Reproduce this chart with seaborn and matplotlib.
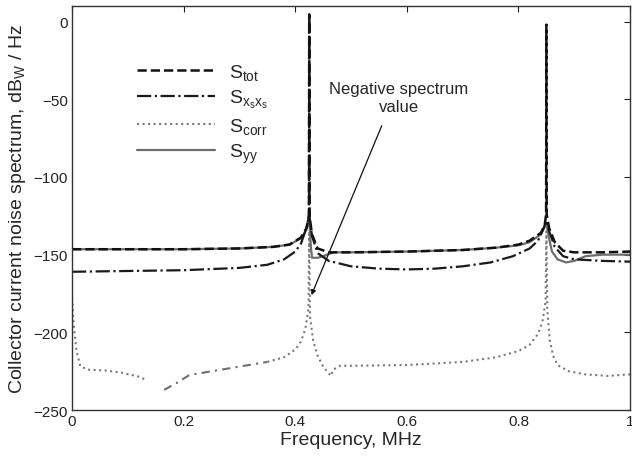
import numpy as np
import pandas as pd
import matplotlib
matplotlib.use("Agg")
import matplotlib.pyplot as plt
from matplotlib.lines import Line2D
import seaborn as sns

# ---------------- data ----------------
f_tot = [0, 0.1, 0.2, 0.3, 0.36, 0.39, 0.41, 0.42, 0.4245, 0.425, 0.4255, 0.43, 0.44, 0.46,
         0.5, 0.6, 0.7, 0.76, 0.8, 0.82, 0.84, 0.847, 0.8495, 0.85, 0.8505, 0.855, 0.865,
         0.88, 0.9, 0.95, 1.0]
s_tot = [-146.5, -146.5, -146.5, -146, -145, -143.5, -139, -133, -125, 4.5, -125, -137, -146,
         -148.5, -148.5, -148, -147, -145.5, -143.5, -141, -136, -131, -124, -2, -124, -133,
         -142, -147.5, -148.5, -148.5, -148]

f_xs = [0, 0.1, 0.2, 0.3, 0.35, 0.38, 0.40, 0.41, 0.42, 0.4245, 0.425, 0.4255, 0.43, 0.44,
        0.46, 0.5, 0.55, 0.6, 0.65, 0.7, 0.75, 0.79, 0.82, 0.835, 0.845, 0.85, 0.855, 0.865,
        0.88, 0.9, 0.95, 1.0]
s_xs = [-161, -160.5, -160, -158.5, -156.5, -153, -148, -143, -133, -125, 4.5, -125, -138,
        -149, -154, -157.5, -159, -159.5, -159, -157.5, -155, -151, -146, -141, -133, -128,
        -135, -145, -151, -153, -154, -154.5]

f_corr_a = [0, 0.003, 0.008, 0.015, 0.03, 0.06, 0.09, 0.12, 0.135]
s_corr_a = [-178, -195, -212, -222, -224, -224.5, -226, -228.5, -231]
f_corr_b = [0.165, 0.19, 0.21, 0.25, 0.3, 0.35, 0.38, 0.40, 0.41, 0.418, 0.4235, 0.425,
            0.4265, 0.432, 0.44, 0.45, 0.464, 0.468, 0.48, 0.5, 0.6, 0.7, 0.76, 0.8, 0.82,
            0.835, 0.843, 0.8485, 0.85, 0.8515, 0.856, 0.862, 0.87, 0.89, 0.92, 0.96, 1.0]
s_corr_b = [-237, -232, -227.5, -225, -222, -219, -216, -211, -206, -198, -185, -135,
            -190, -205, -215, -222, -228, -224, -221.5, -221.5, -221, -219, -216, -212, -208,
            -201, -193, -180, -135, -185, -205, -215, -221, -225, -227, -228, -227]

f_yy = [0, 0.1, 0.2, 0.3, 0.36, 0.39, 0.41, 0.42, 0.425, 0.428, 0.43, 0.44, 0.45, 0.46, 0.47,
        0.5, 0.6, 0.7, 0.76, 0.8, 0.82, 0.84, 0.85, 0.855, 0.86, 0.87, 0.885, 0.9, 0.92, 0.95, 1.0]
s_yy = [-146.5, -146.5, -146.5, -146, -145, -143.5, -139.5, -134, -127, -145, -152, -152,
        -151, -149.5, -148.5, -148.5, -148, -147, -145.5, -144, -142, -137, -130, -140, -148,
        -153, -155, -154, -151, -150, -150]

labels = [r"$\mathrm{S}_{\mathrm{tot}}$", r"$\mathrm{S}_{\mathrm{x_s x_s}}$",
          r"$\mathrm{S}_{\mathrm{corr}}$", r"$\mathrm{S}_{\mathrm{yy}}$"]
xticks = [0, 0.2, 0.4, 0.6, 0.8, 1]
xtick_labels = ["0", "0.2", "0.4", "0.6", "0.8", "1"]
yticks = [-250, -200, -150, -100, -50, 0]

# ---------------- style ----------------
sns.set_style("white")
plt.rcParams["font.family"] = ["Liberation Sans", "DejaVu Sans"]
plt.rcParams["mathtext.fontset"] = "custom"
plt.rcParams["mathtext.rm"] = "Liberation Sans"
plt.rcParams["mathtext.it"] = "Liberation Sans:italic"
plt.rcParams["axes.unicode_minus"] = True

fig = plt.figure(figsize=(6.32, 4.64), dpi=100)
ax = fig.add_axes([0.114, 0.114, 0.883, 0.871])

grey = "#6e6e6e"
dgrey = "#7a7a7a"

# S_corr: dotted (with a gap where undefined), part drawn dash-dot like the reference
corr_b = pd.DataFrame({"f": f_corr_b, "s": s_corr_b})
sns.lineplot(x=f_corr_a, y=s_corr_a, ax=ax, color=dgrey, lw=1.5, linestyle=":",
             sort=False, legend=False)
part1 = corr_b[corr_b["f"] <= 0.36]
part2 = corr_b[corr_b["f"] >= 0.35]
sns.lineplot(data=part1, x="f", y="s", ax=ax, color=grey, lw=1.5,
             linestyle=(0, (4, 2.5, 1, 2.5)), sort=False, legend=False)
sns.lineplot(data=part2, x="f", y="s", ax=ax, color=dgrey, lw=1.5, linestyle=":",
             sort=False, legend=False)

sns.lineplot(x=f_yy, y=s_yy, ax=ax, color=grey, lw=1.6, linestyle="-",
             sort=False, legend=False)
sns.lineplot(x=f_xs, y=s_xs, ax=ax, color="#1a1a1a", lw=1.6, linestyle="-.",
             sort=False, legend=False)
sns.lineplot(x=f_tot, y=s_tot, ax=ax, color="#111111", lw=1.8, linestyle="--",
             sort=False, legend=False)

ax.set_xlim(0, 1)
ax.set_ylim(-250, 10)
ax.set_xticks(xticks)
ax.set_xticklabels(xtick_labels)
ax.set_yticks(yticks)
ax.tick_params(direction="in", top=True, right=True, length=4, width=0.8,
               labelsize=11, colors="#222222", pad=3)
for sp in ax.spines.values():
    sp.set_visible(True)
    sp.set_color("#333333")
    sp.set_linewidth(1.0)

ax.set_xlabel("Frequency, MHz", fontsize=14, labelpad=2)
ax.set_ylabel(r"Collector current noise spectrum, dB$_{\mathrm{W}}$ / Hz", fontsize=14,
              labelpad=4)

handles = [
    Line2D([], [], color="#111111", lw=1.8, linestyle="--"),
    Line2D([], [], color="#1a1a1a", lw=1.6, linestyle="-."),
    Line2D([], [], color=dgrey, lw=1.5, linestyle=":"),
    Line2D([], [], color=grey, lw=1.6, linestyle="-"),
]
leg = ax.legend(handles, labels, loc="upper left", bbox_to_anchor=(0.085, 0.905),
                frameon=False, fontsize=14, handlelength=4.0, handletextpad=0.75,
                labelspacing=0.3)

ax.text(0.586, -49, "Negative spectrum\nvalue", ha="center", va="center", fontsize=12,
        linespacing=1.25)
ax.annotate("", xy=(0.429, -176), xytext=(0.555, -67),
            arrowprops=dict(arrowstyle="-|>", color="#111111", lw=0.9, mutation_scale=7,
                            shrinkA=0, shrinkB=0))

fig.savefig("out.png", dpi=100)
